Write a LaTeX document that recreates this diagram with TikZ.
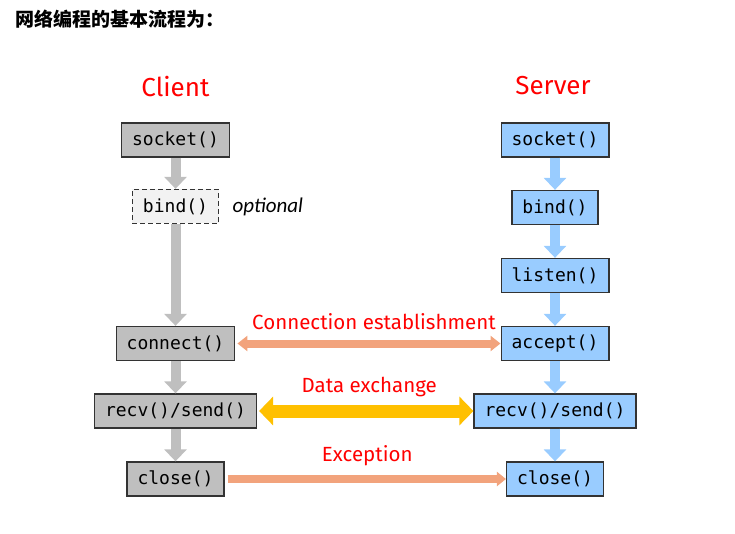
\documentclass[tikz,border=0pt]{standalone}
\usepackage{fontspec}
\setmainfont{Fira Sans}
\setmonofont{DejaVu Sans Mono}
\newfontfamily\cjkfont{Noto Sans CJK SC}
\newfontfamily\notefont{Carlito}
\usetikzlibrary{arrows.meta,positioning}
\definecolor{boxgray}{HTML}{BFBFBF}
\definecolor{boxblue}{HTML}{99CCFF}
\definecolor{salmon}{HTML}{F2A37C}
\definecolor{gold}{HTML}{FFC000}
\definecolor{edge}{HTML}{333333}
\tikzset{
  func/.style={draw=edge, line width=1.3pt, minimum height=34pt, inner xsep=10.5pt,
    font=\ttfamily\fontsize{18}{20}\selectfont},
  cbox/.style={func, fill=boxgray},
  sbox/.style={func, fill=boxblue},
  side/.style={text=red, font=\fontsize{26}{30}\selectfont},
  tag/.style={text=red, font=\fontsize{20.5}{24}\selectfont},
  carrow/.style={draw=boxgray, line width=10pt, -{Triangle[width=22pt,length=12pt]}},
  sarrow/.style={carrow, draw=boxblue},
}
\begin{document}
\begin{tikzpicture}[x=1pt,y=-1pt]
	\useasboundingbox (0,0) rectangle (735,534);
	\node[anchor=west, font=\cjkfont\bfseries\fontsize{19}{22}\selectfont] (title) at (12,19) {网络编程的基本流程为：};
	\node[side] (client) at (175.5,87) {Client};
	\node[side] (server) at (553,86) {Server};
	% client side
	\node[cbox] (csocket) at (175.5,140) {socket()};
	\node[func, fill=black!5, dash pattern=on 5pt off 3pt] (cbind) at (175.5,206.5) {bind()};
	\node[right=10pt of cbind, font=\notefont\itshape\fontsize{21}{24}\selectfont] (optional) {optional};
	\node[cbox] (cconnect) at (175.5,343.5) {connect()};
	\node[cbox] (crecv) at (175.5,411) {recv()/send()};
	\node[cbox] (cclose) at (175.5,479) {close()};
	% server side
	\node[sbox] (ssocket) at (555,140) {socket()};
	\node[sbox] (sbind) at (555,207.5) {bind()};
	\node[sbox] (slisten) at (555,275.5) {listen()};
	\node[sbox] (saccept) at (555,343.5) {accept()};
	\node[sbox] (srecv) at (555,411) {recv()/send()};
	\node[sbox] (sclose) at (555,479) {close()};
	% vertical flow
	\draw[carrow] (csocket) -- (cbind);
	\draw[carrow] (cbind) -- (cconnect);
	\draw[carrow] (cconnect) -- (crecv);
	\draw[carrow] (crecv) -- (cclose);
	\draw[sarrow] (ssocket) -- (sbind);
	\draw[sarrow] (sbind) -- (slisten);
	\draw[sarrow] (slisten) -- (saccept);
	\draw[sarrow] (saccept) -- (srecv);
	\draw[sarrow] (srecv) -- (sclose);
	% between client and server
	\draw[draw=salmon, line width=8pt, {Triangle[width=15pt,length=10pt]}-{Triangle[width=15pt,length=10pt]}, shorten <=2pt] (cconnect) -- (saccept)
		node[tag, midway, xshift=6pt, yshift=22pt] (conn) {Connection establishment};
	\draw[draw=gold, line width=13pt, {Triangle[width=28pt,length=14pt]}-{Triangle[width=28pt,length=14pt]}, shorten <=2pt] (crecv) -- (srecv)
		node[tag, midway, xshift=4pt, yshift=24pt] (data) {Data exchange};
	\draw[draw=salmon, line width=7.5pt, -{Triangle[width=14pt,length=9pt]}, shorten <=3pt] (cclose) -- (sclose)
		node[tag, midway, xshift=2pt, yshift=23pt] (exc) {Exception};
\end{tikzpicture}
\end{document}
